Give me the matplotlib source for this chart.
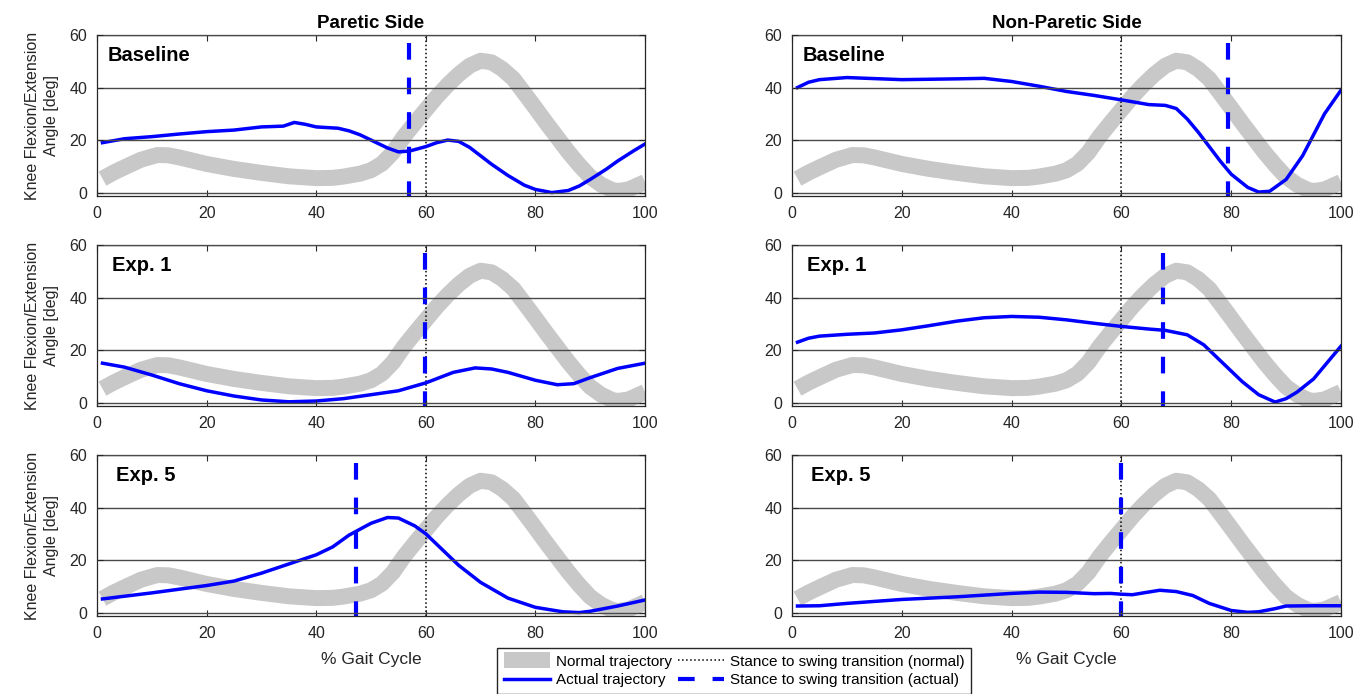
import matplotlib
matplotlib.use("Agg")
import matplotlib.pyplot as plt

plt.rcParams['font.family'] = ['Liberation Sans', 'DejaVu Sans']

# normal trajectory (same in every panel), drawn as a thick gray line
normal_x = [1, 3, 5, 8, 11, 13, 15, 20, 25, 30, 35, 40, 43, 45, 48, 50, 52, 54, 56, 58, 60, 62, 64, 66,
            68, 70, 72, 74, 76, 78, 80, 82, 84, 86, 88, 90, 92, 94, 95, 97, 100]
normal_y = [5.3, 7.6, 9.6, 12.5, 14.3, 14.2, 13.4, 10.9, 9.0, 7.5, 6.2, 5.5, 5.6, 6.1, 7.2, 8.5, 11, 15.3,
            21.3, 26.5, 31.5, 36.5, 41, 45, 48.3, 50.2, 49.6, 47, 43.3, 37.8, 32.2, 26.5, 21, 15.5, 10.5,
            6, 3, 1, 0.6, 1.2, 4]
normal_transition = 60

# actual trajectories
par_base_x = [1, 5, 10, 15, 20, 25, 30, 34, 36, 38, 40, 44, 46, 48, 50, 53, 55, 57, 60, 62, 64, 66, 68,
              70, 72, 75, 78, 80, 83, 86, 88, 90, 93, 95, 98, 100]
par_base_y = [19, 20.5, 21.3, 22.3, 23.2, 23.8, 25, 25.3, 26.7, 26, 25, 24.5, 23.5, 22, 20, 17, 15.5, 15.8,
              17.5, 19, 20, 19.5, 17.2, 14, 10.8, 6.5, 2.8, 1.2, 0, 0.8, 2.5, 5, 9, 12, 16, 18.5]

non_base_x = [1, 3, 5, 10, 20, 30, 35, 40, 45, 50, 55, 60, 65, 68, 70, 72, 74, 76, 78, 80, 83, 85, 87,
              90, 93, 95, 97, 100]
non_base_y = [40, 42, 43, 43.8, 43, 43.3, 43.5, 42.3, 40.5, 38.5, 37, 35.3, 33.5, 33.2, 32, 28, 23,
              17.5, 12, 7, 2, 0.2, 0.5, 5, 14, 22, 30, 39]

par_exp1_x = [1, 5, 10, 15, 20, 25, 30, 35, 40, 45, 50, 55, 60, 65, 69, 72, 75, 80, 84, 87, 90, 95, 100]
par_exp1_y = [15, 13.5, 10.5, 7.2, 4.5, 2.5, 1, 0.3, 0.6, 1.5, 3, 4.5, 7.5, 11.5, 13.2, 12.8, 11.5, 8.5,
              6.8, 7.2, 9.5, 13, 15]

non_exp1_x = [1, 3, 5, 10, 15, 20, 25, 30, 35, 40, 45, 50, 55, 60, 65, 68, 72, 75, 78, 80, 82, 85, 88,
              90, 92, 95, 97, 100]
non_exp1_y = [23, 24.5, 25.3, 26, 26.5, 27.7, 29.3, 31, 32.3, 32.8, 32.5, 31.5, 30.2, 29, 28, 27.5, 25.8,
              22, 16, 12, 8, 3, 0.2, 1.5, 4, 9, 14, 21.5]

par_exp5_x = [1, 10, 20, 25, 30, 35, 40, 43, 46, 50, 53, 55, 58, 60, 63, 66, 70, 75, 80, 85, 88, 90, 95, 100]
par_exp5_y = [5.2, 7.5, 10.3, 12, 15, 18.5, 22, 25, 29.5, 34, 36.2, 36, 33, 30, 24, 18, 11.5, 5.5, 2,
              0.3, 0, 0.5, 2.5, 4.8]

non_exp5_x = [1, 5, 10, 20, 30, 40, 45, 50, 55, 58, 60, 62, 64, 67, 70, 73, 76, 80, 83, 85, 88, 90, 95, 100]
non_exp5_y = [2.5, 2.6, 3.5, 5, 6, 7.3, 7.8, 7.7, 7.2, 7.3, 7, 6.8, 7.5, 8.5, 8, 6.5, 3.5, 0.8, 0.1,
              0.3, 1.5, 2.5, 2.6, 2.6]

actual_transition = [57, 79.5, 59.8, 67.5, 47.3, 60]

panel_x = [par_base_x, non_base_x, par_exp1_x, non_exp1_x, par_exp5_x, non_exp5_x]
panel_y = [par_base_y, non_base_y, par_exp1_y, non_exp1_y, par_exp5_y, non_exp5_y]
row_names = ['Baseline', 'Exp. 1', 'Exp. 5']
col_titles = ['Paretic Side', 'Non-Paretic Side']

W, H = 1369, 694
fig = plt.figure(figsize=(W / 100, H / 100), dpi=100)

lefts = [97, 792]
widths = [548, 549]
tops = [35, 245, 455]
ax_h = 161
name_x = [0.02, 0.027, 0.035]

ymin = -1.3
handles = None
for r in range(3):
    for c in range(2):
        i = r * 2 + c
        ax = fig.add_axes([lefts[c] / W, 1 - (tops[r] + ax_h) / H, widths[c] / W, ax_h / H])
        norm, = ax.plot(normal_x, normal_y, color='#c8c8c8', lw=11.5, solid_capstyle='butt',
                        solid_joinstyle='round', label='Normal trajectory')
        dot, = ax.plot([normal_transition, normal_transition], [ymin, 60], color='black',
                       ls=':', lw=1.1, label='Stance to swing transition (normal)')
        act, = ax.plot(panel_x[i], panel_y[i], color='#0000ff', lw=2.5,
                       solid_joinstyle='round', label='Actual trajectory')
        dash, = ax.plot([actual_transition[i], actual_transition[i]], [57, ymin],
                        color='#0000ff', lw=3, dashes=(4, 4.3),
                        label='Stance to swing transition (actual)')
        handles = [norm, act, dot, dash]

        ax.set_xlim(0, 100)
        ax.set_ylim(ymin, 60)
        ax.set_xticks([0, 20, 40, 60, 80, 100])
        ax.set_yticks([0, 20, 40, 60])
        ax.grid(axis='y', color='#4a4a4a', lw=1.0)
        ax.set_axisbelow(False)
        ax.tick_params(direction='in', top=True, right=True, length=4, width=0.8,
                       labelsize=11.5, labelcolor='#262626', pad=7, color='#262626')
        for s in ax.spines.values():
            s.set_color('#262626')
            s.set_linewidth(0.9)

        ax.text(name_x[r], 0.87, row_names[r], transform=ax.transAxes, fontsize=14.5,
                fontweight='bold', ha='left', va='center')
        if r == 0:
            ax.set_title(col_titles[c], fontsize=13.5, fontweight='bold', pad=5)
        if c == 0:
            ax.set_ylabel('Knee Flexion/Extension\nAngle [deg]', fontsize=11.5, color='#262626',
                          linespacing=1.3)
            ax.yaxis.set_label_coords(-0.07, 0.5)
        if r == 2:
            ax.set_xlabel('% Gait Cycle', fontsize=12.5, color='#262626', labelpad=8)

fig.legend(handles=handles, ncol=2, loc='lower left',
           bbox_to_anchor=(497 / W, 0.0), fontsize=11, frameon=True, fancybox=False,
           edgecolor='#262626', framealpha=1, handlelength=3, columnspacing=0.4,
           handletextpad=0.4, borderpad=0.45, labelspacing=0.3, borderaxespad=0)

fig.savefig('out.png', dpi=100)
